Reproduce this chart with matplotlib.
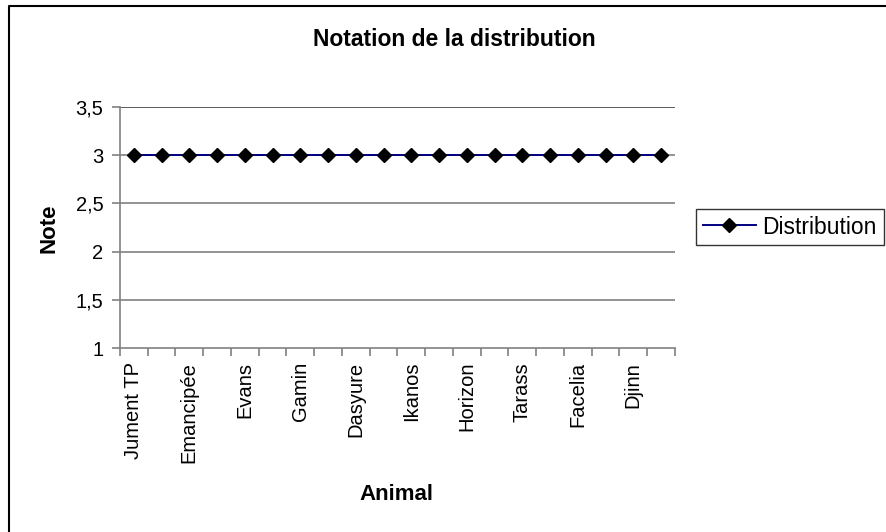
import numpy as np
import matplotlib
matplotlib.use('Agg')
import matplotlib.pyplot as plt
from matplotlib.lines import Line2D

plt.rcParams['font.family'] = ['Liberation Sans', 'DejaVu Sans']

# Données
animaux = ['Jument TP', '', 'Emancipée', '', 'Evans', '', 'Gamin', '', 'Dasyure', '',
           'Ikanos', '', 'Horizon', '', 'Tarass', '', 'Facelia', '', 'Djinn', '']
notes = [3, 3, 3, 3, 3, 3, 3, 3, 3, 3, 3, 3, 3, 3, 3, 3, 3, 3, 3, 3]
y_ticks = [1, 1.5, 2, 2.5, 3, 3.5]
y_labels = ['1', '1,5', '2', '2,5', '3', '3,5']

W, H = 887, 532
fig = plt.figure(figsize=(W / 100, H / 100), dpi=100)
ax = fig.add_axes([120 / W, 1 - 348 / H, (675 - 120) / W, (348 - 107) / H])

x = np.arange(len(notes))
ax.plot(x, notes, color='#000080', lw=1.4, marker='D', ms=7,
        mfc='black', mec='black', zorder=3, clip_on=False)

ax.set_xlim(-0.5, len(notes) - 0.5)
ax.set_ylim(1, 3.5)

# grille horizontale
for yv in y_ticks[1:]:
    ax.axhline(yv, color='#808080' if yv != 3.5 else '#404040', lw=1.2, zorder=1)

ax.set_yticks(y_ticks)
ax.set_yticklabels(y_labels, fontsize=14.5)
ax.set_xticks(x)
ax.set_xticklabels(animaux, rotation=90, fontsize=14.5)
ax.set_xticks(np.arange(len(notes) + 1) - 0.5, minor=True)
ax.tick_params(axis='x', which='major', length=0, pad=10)
ax.tick_params(axis='x', which='minor', length=6, width=1.2, color='#808080', direction='out')
ax.tick_params(axis='y', length=6, width=1.2, color='#808080', direction='out', pad=6)

for s in ['top', 'right']:
    ax.spines[s].set_visible(False)
for s in ['left', 'bottom']:
    ax.spines[s].set_color('#808080')
    ax.spines[s].set_linewidth(1.2)

fig.text(454 / W, 1 - 40 / H, 'Notation de la distribution', ha='center', va='center',
         fontsize=16.5, fontweight='bold')
fig.text(396 / W, 1 - 494 / H, 'Animal', ha='center', va='center',
         fontsize=16, fontweight='bold')
fig.text(49 / W, 1 - 228 / H, 'Note', ha='center', va='center', rotation=90,
         fontsize=16, fontweight='bold')

handle = Line2D([], [], color='#000080', lw=1.4, marker='D', ms=7, mfc='black', mec='black')
leg = fig.legend([handle], ['Distribution'], loc='center left',
                 bbox_to_anchor=(696 / W, 1 - 227 / H), fontsize=16.5, frameon=True,
                 fancybox=False, handlelength=2.3, handletextpad=0.3, borderpad=0.3,
                 borderaxespad=0)
leg.get_frame().set_edgecolor('black')
leg.get_frame().set_linewidth(1)

# cadre du graphique (bords haut et gauche visibles)
fig.add_artist(Line2D([9 / W, 9 / W, 1], [0, 1 - 6 / H, 1 - 6 / H], color='black', lw=1.5))

fig.savefig('out.png', dpi=100)
